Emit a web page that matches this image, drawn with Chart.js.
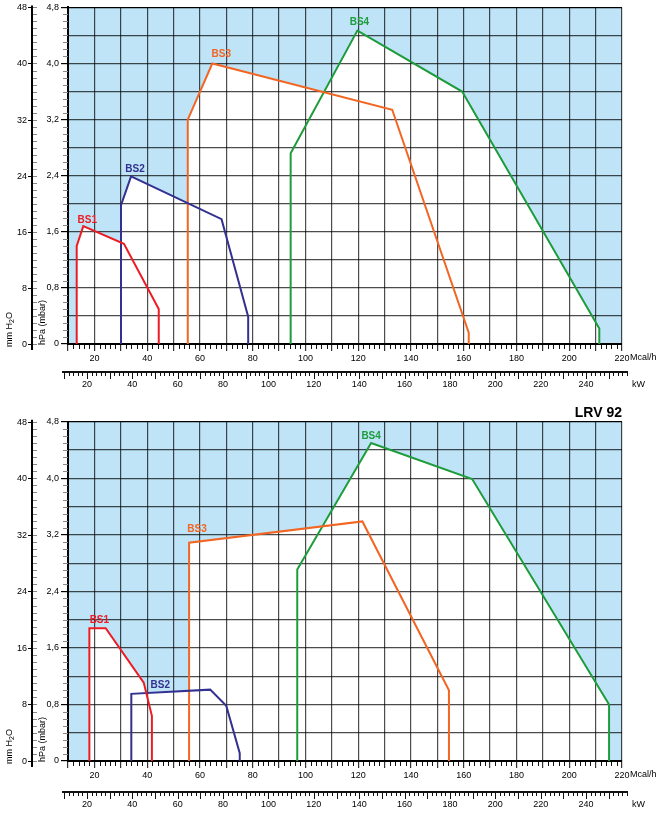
<!doctype html>
<html lang="it">
<head>
	<meta charset="utf-8">
	<title>LRV 92 - Campo di lavoro</title>
	<style>
		* {
			margin: 0;
			padding: 0;
		}

		body {
			background: #fff;
			width: 663px;
		}

		canvas {
			display: block;
			/* plot background: the plugin paints white everywhere outside the chart area */
			background: #bfe4f7;
		}
	</style>
</head>

<body>
	<canvas id="upperChart" width="663" height="400"></canvas>
	<canvas id="lowerChart" width="663" height="414"></canvas>

	<script src="https://cdn.jsdelivr.net/npm/chart.js"></script>
	<script>
		/*===== Data =====*/
		const seriesNames = ['BS1', 'BS2', 'BS3', 'BS4'];

		// upper chart
		const upperBS1Mcal = [13.3, 13.3, 15.8, 31.2, 44.4, 44.4];
		const upperBS1Hpa = [0, 1.40, 1.68, 1.43, 0.50, 0];
		const upperBS2Mcal = [30.1, 30.1, 33.9, 68.2, 78.3, 78.3];
		const upperBS2Hpa = [0, 1.98, 2.39, 1.78, 0.39, 0];
		const upperBS3Mcal = [55.4, 55.4, 64.7, 132.9, 161.9, 161.9];
		const upperBS3Hpa = [0, 3.20, 4.00, 3.34, 0.16, 0];
		const upperBS4Mcal = [94.4, 94.4, 119.7, 159.4, 211.4, 211.4];
		const upperBS4Hpa = [0, 2.72, 4.47, 3.60, 0.22, 0];

		// lower chart (LRV 92)
		const lowerBS1Mcal = [18.1, 18.1, 24.3, 38.7, 41.8, 41.8];
		const lowerBS1Hpa = [0, 1.88, 1.88, 1.11, 0.64, 0];
		const lowerBS2Mcal = [34.0, 34.0, 63.9, 70.0, 75.1, 75.1];
		const lowerBS2Hpa = [0, 0.95, 1.01, 0.78, 0.11, 0];
		const lowerBS3Mcal = [55.9, 55.9, 121.6, 154.4, 154.4];
		const lowerBS3Hpa = [0, 3.09, 3.39, 1.00, 0];
		const lowerBS4Mcal = [96.9, 96.9, 124.9, 163.2, 215.1, 215.1];
		const lowerBS4Hpa = [0, 2.71, 4.50, 3.99, 0.80, 0];

		// axes
		const mcalMin = 10;
		const mcalMax = 220;
		const hpaMax = 4.8;
		const mmPerHpa = 10;      // mm H2O per hPa on the outer scale
		const mcalPerKw = 0.86;
		/*===== End Data =====*/

		/*===== Style =====*/
		const lineColors = ['#ed1c24', '#33318f', '#f26522', '#1e9c3c'];
		const gridColor = 'rgba(0, 0, 0, 0.7)';

		Chart.defaults.font.family = "'Liberation Sans', Arial, sans-serif";
		Chart.defaults.font.size = 9;
		Chart.defaults.color = '#000';

		const isStep = (v, s) => Math.abs(v / s - Math.round(v / s)) < 1e-6;

		/*===== Decoration plugin: outer mm H2O axis, minor ticks, kW axis line, labels =====*/
		function decoPlugin(marks) {
			return {
				id: 'deco',
				beforeDraw(chart) {
					// filler (drawTime beforeDraw) has already painted the white envelopes
					const {ctx, width, height, chartArea: a} = chart;
					ctx.save();
					ctx.fillStyle = '#fff';
					ctx.beginPath();
					ctx.rect(0, 0, width, height);
					ctx.rect(a.left, a.top, a.right - a.left, a.bottom - a.top);
					ctx.fill('evenodd');
					ctx.restore();
				},
				afterDraw(chart) {
					const {ctx, chartArea: a, scales: {x, y, kw}} = chart;
					ctx.save();

					// minor ticks Mcal/h and kW
					ctx.lineWidth = 1;
					ctx.strokeStyle = '#111';
					ctx.beginPath();
					for (let v = mcalMin + 2; v < mcalMax; v += 2) {
						if (isStep(v, 10)) continue;
						const px = Math.round(x.getPixelForValue(v)) + 0.5;
						ctx.moveTo(px, a.bottom + 1);
						ctx.lineTo(px, a.bottom + 5);
					}
					const k0 = Math.ceil(kw.getValueForPixel(a.left - 5) / 2) * 2;
					const k1 = kw.getValueForPixel(a.right + 5);
					for (let v = k0; v <= k1; v += 2) {
						const px = Math.round(kw.getPixelForValue(v)) + 0.5;
						ctx.moveTo(px, kw.top);
						ctx.lineTo(px, kw.top + (isStep(v, 10) ? 7 : 4));
					}
					ctx.stroke();
					ctx.lineWidth = 2;
					ctx.beginPath();
					ctx.moveTo(a.left - 6, kw.top);
					ctx.lineTo(a.right + 6, kw.top);
					ctx.stroke();

					// minor ticks hPa
					ctx.lineWidth = 1;
					ctx.strokeStyle = '#888';
					ctx.beginPath();
					for (let i = 1; i < hpaMax * 10; i++) {
						if (i % 8 === 0) continue;
						const py = Math.round(y.getPixelForValue(i / 10)) + 0.5;
						ctx.moveTo(a.left - 5, py);
						ctx.lineTo(a.left, py);
					}
					ctx.stroke();

					// outer mm H2O axis
					const ax = 32;
					ctx.strokeStyle = '#000';
					ctx.lineWidth = 2;
					ctx.beginPath();
					ctx.moveTo(ax, a.top - 2);
					ctx.lineTo(ax, a.bottom + 6);
					ctx.stroke();
					ctx.lineWidth = 1;
					ctx.textAlign = 'right';
					ctx.textBaseline = 'middle';
					ctx.font = "9px 'Liberation Sans', Arial, sans-serif";
					ctx.fillStyle = '#000';
					for (let mm = 0; mm <= hpaMax * mmPerHpa; mm++) {
						const py = Math.round(y.getPixelForValue(mm / mmPerHpa)) + 0.5;
						ctx.strokeStyle = '#888';
						ctx.beginPath();
						ctx.moveTo(ax + 1, py);
						ctx.lineTo(ax + 5, py);
						ctx.stroke();
						if (mm % 8 === 0) {
							ctx.strokeStyle = '#000';
							ctx.beginPath();
							ctx.moveTo(ax - 4, py);
							ctx.lineTo(ax, py);
							ctx.stroke();
							ctx.fillText(String(mm), ax - 5, py);
						}
					}

					// axis titles (rotated)
					ctx.textAlign = 'left';
					ctx.save();
					ctx.translate(10, a.bottom + 3);
					ctx.rotate(-Math.PI / 2);
					ctx.fillText('mm H', 0, 0);
					let w = ctx.measureText('mm H').width;
					ctx.font = "7px 'Liberation Sans', Arial, sans-serif";
					ctx.fillText('2', w, 2);
					w += ctx.measureText('2').width;
					ctx.font = "9px 'Liberation Sans', Arial, sans-serif";
					ctx.fillText('O', w, 0);
					ctx.restore();
					ctx.save();
					ctx.translate(43, a.bottom + 1);
					ctx.rotate(-Math.PI / 2);
					ctx.fillText('hPa (mbar)', 0, 0);
					ctx.restore();

					// unit labels
					ctx.fillText('Mcal/h', a.right + 8, a.bottom + 14);
					ctx.fillText('kW', a.right + 10, kw.top + 13);

					// series labels
					ctx.font = "bold 10px 'Liberation Sans', Arial, sans-serif";
					ctx.textAlign = 'center';
					marks.forEach((m, i) => {
						const pt = chart.data.datasets[i].data[m.at];
						ctx.fillStyle = lineColors[i];
						ctx.fillText(seriesNames[i], x.getPixelForValue(pt.x) + m.dx, y.getPixelForValue(pt.y) + m.dy);
					});
					ctx.restore();
				}
			};
		}

		function envelope(i, mcal, hpa) {
			return {
				label: seriesNames[i],
				data: mcal.map((v, k) => ({x: v, y: hpa[k]})),
				xAxisID: 'x',
				yAxisID: 'y',
				borderColor: lineColors[i],
				borderWidth: 2,
				borderJoinStyle: 'miter',
				backgroundColor: '#fff',
				fill: 'origin',
				pointRadius: 0,
				tension: 0
			};
		}

		function makeChart(id, datasets, marks, title, sizes) {
			return new Chart(document.getElementById(id), {
				type: 'line',
				data: {datasets},
				options: {
					responsive: false,
					animation: false,
					events: [],
					layout: {padding: {top: sizes.top, right: 41, left: 0, bottom: 0}},
					plugins: {
						legend: {display: false},
						tooltip: {enabled: false},
						filler: {drawTime: 'beforeDraw'},
						title: {
							display: !!title,
							text: title,
							align: 'end',
							color: '#000',
							font: {size: 14, weight: 'bold'},
							padding: {top: 5, bottom: 0}
						}
					},
					scales: {
						x: {
							type: 'linear',
							position: 'bottom',
							min: mcalMin,
							max: mcalMax,
							afterFit: s => { s.height = sizes.x; },
							grid: {color: gridColor, lineWidth: 1.2, tickLength: 7, tickColor: '#333'},
							border: {color: '#000', width: 2},
							ticks: {
								stepSize: 10,
								autoSkip: false,
								maxRotation: 0,
								padding: 2,
								callback: v => isStep(v, 20) ? String(v) : ''
							}
						},
						kw: {
							type: 'linear',
							position: 'bottom',
							min: mcalMin / mcalPerKw,
							max: mcalMax / mcalPerKw,
							afterFit: s => { s.height = sizes.kw; },
							grid: {display: false, drawTicks: true, tickLength: 7},
							border: {display: false},
							ticks: {
								stepSize: 20,
								includeBounds: false,
								autoSkip: false,
								maxRotation: 0,
								padding: 0,
								callback: v => isStep(v, 20) ? String(Math.round(v)) : ''
							}
						},
						y: {
							type: 'linear',
							position: 'left',
							min: 0,
							max: hpaMax,
							afterFit: s => { s.width = 68; },
							grid: {
								color: c => c.tick && Math.abs(c.tick.value - hpaMax) < 1e-6 ? '#000' : gridColor,
								lineWidth: 1.2,
								tickLength: 7,
								tickColor: c => c.tick && isStep(c.tick.value, 0.8) ? '#000' : 'rgba(0,0,0,0)'
							},
							border: {color: '#000', width: 2},
							ticks: {
								stepSize: 0.4,
								autoSkip: false,
								padding: 2,
								callback: v => isStep(v, 0.8) ? (v === 0 ? '0' : v.toFixed(1).replace('.', ',')) : ''
							}
						}
					}
				},
				plugins: [decoPlugin(marks)]
			});
		}

		/*===== Upper chart =====*/
		makeChart('upperChart', [
			envelope(0, upperBS1Mcal, upperBS1Hpa),
			envelope(1, upperBS2Mcal, upperBS2Hpa),
			envelope(2, upperBS3Mcal, upperBS3Hpa),
			envelope(3, upperBS4Mcal, upperBS4Hpa)
		], [
			{at: 2, dx: 4, dy: -6},
			{at: 2, dx: 4, dy: -7},
			{at: 2, dx: 9, dy: -9},
			{at: 2, dx: 2, dy: -8}
		], '', {top: 7, x: 28, kw: 28});

		/*===== Lower chart =====*/
		makeChart('lowerChart', [
			envelope(0, lowerBS1Mcal, lowerBS1Hpa),
			envelope(1, lowerBS2Mcal, lowerBS2Hpa),
			envelope(2, lowerBS3Mcal, lowerBS3Hpa),
			envelope(3, lowerBS4Mcal, lowerBS4Hpa)
		], [
			{at: 1, dx: 10, dy: -8},
			{at: 1, dx: 29, dy: -9},
			{at: 1, dx: 8, dy: -13},
			{at: 2, dx: 0, dy: -7}
		], 'LRV 92', {top: 0, x: 31, kw: 22});
	</script>
</body>

</html>
